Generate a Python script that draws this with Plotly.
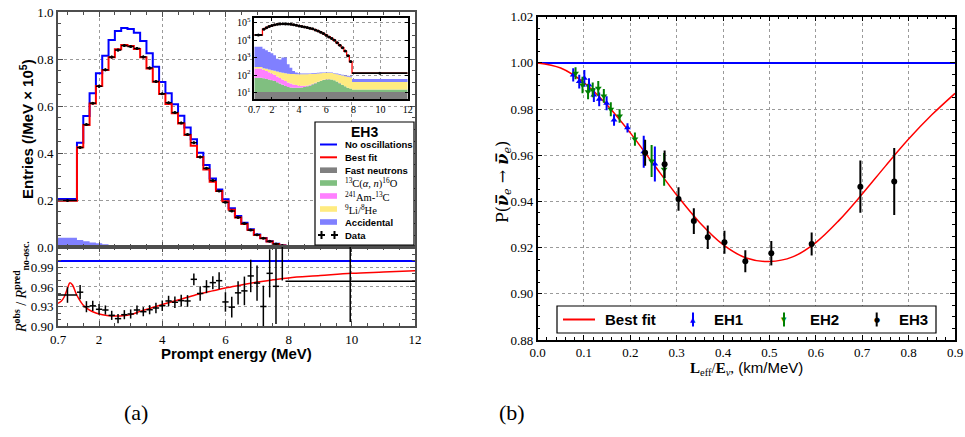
import plotly.graph_objects as go

W, H = 965, 437

# ---------------- Panel (a): EH3 prompt-energy spectrum ----------------
bin_edges = [0.7, 1.3, 1.5, 1.7, 1.9, 2.1, 2.3, 2.5, 2.7, 2.9, 3.1, 3.3, 3.5, 3.7, 3.9,
             4.1, 4.3, 4.5, 4.7, 4.9, 5.1, 5.3, 5.5, 5.7, 5.9, 6.1, 6.3, 6.5, 6.7, 6.9,
             7.1, 7.3, 7.5, 7.7, 7.9, 12.0]
# entries (/MeV x 1e5)
no_osc = [0.204, 0.444, 0.557, 0.654, 0.739, 0.814, 0.881, 0.919, 0.932, 0.928, 0.912,
          0.877, 0.824, 0.767, 0.702, 0.654, 0.607, 0.559, 0.509, 0.458, 0.401, 0.349,
          0.292, 0.245, 0.203, 0.165, 0.132, 0.103, 0.075, 0.053, 0.038, 0.024, 0.0135,
          0.0063, 0.0014]
best_fit = [0.197, 0.424, 0.519, 0.611, 0.685, 0.753, 0.807, 0.841, 0.860, 0.855, 0.843,
            0.807, 0.760, 0.703, 0.651, 0.609, 0.569, 0.525, 0.477, 0.431, 0.383, 0.330,
            0.278, 0.238, 0.195, 0.158, 0.126, 0.098, 0.072, 0.051, 0.037, 0.023, 0.013,
            0.006, 0.0013]
data_entries = [0.198, 0.423, 0.521, 0.612, 0.684, 0.754, 0.808, 0.838, 0.857, 0.853, 0.845,
                0.809, 0.762, 0.704, 0.652, 0.614, 0.572, 0.528, 0.479, 0.444, 0.383, 0.335,
                0.283, 0.238, 0.190, 0.153, 0.126, 0.100, 0.072, 0.052, 0.037, 0.024, 0.013,
                0.006, 0.0013]
data_err = [0.003, 0.005, 0.005, 0.005, 0.006, 0.006, 0.006, 0.006, 0.006, 0.006, 0.006,
            0.006, 0.006, 0.006, 0.005, 0.005, 0.005, 0.005, 0.005, 0.005, 0.005, 0.004,
            0.004, 0.004, 0.004, 0.003, 0.003, 0.003, 0.003, 0.002, 0.002, 0.002, 0.001,
            0.001, 0.0002]
# ratio R_obs / R_pred(no osc.)
ratio_obs = [0.9477, 0.952, 0.9297, 0.931, 0.9257, 0.9246, 0.9164, 0.9113, 0.9174, 0.9185,
             0.9246, 0.922, 0.925, 0.9277, 0.9312, 0.9385, 0.9365, 0.939, 0.9385, 0.9718,
             0.950, 0.9605, 0.9667, 0.9697, 0.937, 0.929, 0.951, 0.954, 0.977, 0.966,
             0.930, 0.981, 0.961, 1.03, 0.969]
ratio_err = [0.012, 0.011, 0.0085, 0.008, 0.008, 0.007, 0.007, 0.007, 0.007, 0.007, 0.007,
             0.007, 0.007, 0.008, 0.008, 0.008, 0.009, 0.009, 0.009, 0.009, 0.011, 0.010,
             0.010, 0.013, 0.015, 0.016, 0.018, 0.022, 0.025, 0.027, 0.032, 0.037, 0.058,
             0.06, 0.063]
ratio_curve_e = [0.7, 0.8, 0.9, 1.0, 1.08, 1.16, 1.27, 1.37, 1.5, 1.65, 1.8, 2.0, 2.25, 2.5,
                 2.75, 3.0, 3.3, 3.6, 4.0, 4.5, 5.0, 5.5, 6.0, 6.5, 7.0, 7.5, 8.0, 9.0, 10.0,
                 11.0, 12.0]
ratio_curve_v = [0.935, 0.938, 0.945, 0.958, 0.9665, 0.963, 0.950, 0.941, 0.932, 0.926,
                 0.922, 0.9185, 0.9163, 0.9154, 0.9157, 0.9175, 0.9225, 0.927, 0.933, 0.940,
                 0.947, 0.953, 0.9585, 0.963, 0.9675, 0.971, 0.974, 0.9775, 0.981, 0.983,
                 0.985]
ratio_ref = 1.0
# backgrounds (events / MeV)
bkg_fast_n = [11, 11, 11, 11, 11, 11, 11, 11, 11, 11, 11, 11, 11, 11, 11, 11, 11, 11, 11,
              11, 11, 11, 11, 11, 11, 11, 11, 11, 11, 11, 11, 11, 11, 11, 11]
bkg_c13 = [60, 55, 50, 45, 40, 35, 28, 22, 17, 13, 10, 9, 8, 8, 8, 9, 10, 12, 15, 19, 24,
           30, 36, 42, 46, 48, 46, 40, 32, 24, 17, 12, 8, 6, 4]
bkg_amc = [170, 130, 110, 90, 72, 58, 46, 36, 28, 22, 17, 13, 10, 8, 6, 5, 4, 3, 2.5, 2,
           1.6, 1.3, 1, 0.8, 0.6, 0.5, 0.4, 0.3, 0.25, 0.2, 0.15, 0.1, 0.1, 0.1, 0.05]
bkg_lihe = [50, 55, 60, 65, 70, 72, 75, 78, 80, 82, 84, 85, 86, 87, 88, 88, 88, 88, 87, 86,
            85, 84, 82, 80, 78, 76, 74, 72, 70, 68, 66, 64, 62, 60, 25]
bkg_acc = [3900, 3000, 2400, 1900, 1600, 1200, 700, 650, 900, 900, 300, 150, 60, 30, 15,
           10, 10, 10, 10, 10, 10, 10, 10, 10, 10, 10, 10, 10, 10, 10, 10, 10, 10, 10, 20]
bkg_colors = ["rgb(128,128,128)", "rgb(128,191,128)", "rgb(255,128,255)",
              "rgb(255,235,128)", "rgb(128,128,255)"]

# ---------------- Panel (b): survival probability ----------------
surv_x = [0, 0.05, 0.1, 0.15, 0.2, 0.25, 0.3, 0.35, 0.4, 0.45, 0.5, 0.55, 0.6, 0.65, 0.7,
          0.75, 0.8, 0.85, 0.9]
surv_p = [1.000, 0.9978, 0.9915, 0.9818, 0.9697, 0.9562, 0.9428, 0.9308, 0.9213, 0.9155,
          0.9140, 0.9160, 0.9222, 0.9318, 0.9432, 0.9553, 0.9670, 0.9775, 0.9868]
eh1_x = [0.077, 0.090, 0.101, 0.111, 0.1215, 0.133, 0.149, 0.165, 0.194, 0.229, 0.253]
eh1_y = [0.9948, 0.9919, 0.9933, 0.9904, 0.9861, 0.9842, 0.9825, 0.9753, 0.9719, 0.9615, 0.9562]
eh1_e = [0.0029, 0.0030, 0.0036, 0.0029, 0.0030, 0.0030, 0.0030, 0.0025, 0.0020, 0.0069, 0.0076]
eh2_x = [0.082, 0.097, 0.109, 0.119, 0.131, 0.143, 0.158, 0.177, 0.210, 0.246, 0.273]
eh2_y = [0.9955, 0.9904, 0.9875, 0.9883, 0.9890, 0.9857, 0.9799, 0.9770, 0.9670, 0.9575, 0.9539]
eh2_e = [0.0026, 0.0036, 0.0032, 0.0032, 0.0032, 0.0030, 0.0030, 0.0029, 0.0029, 0.0069, 0.0071]
eh3_x = [0.232, 0.274, 0.304, 0.337, 0.367, 0.403, 0.448, 0.504, 0.591, 0.696, 0.769]
eh3_y = [0.9611, 0.9561, 0.9411, 0.9315, 0.9245, 0.9223, 0.9141, 0.9176, 0.9216, 0.9464, 0.9486]
eh3_e = [0.0056, 0.0060, 0.0051, 0.0056, 0.0051, 0.0050, 0.0048, 0.0053, 0.0050, 0.0113, 0.0145]
p_ref = 1.0

# ---------------- helpers (window pixel -> paper fraction) ----------------
def pxx(x):
    return x / W

def pxy(y):
    return 1 - y / H

centers = [(a + b) / 2 for a, b in zip(bin_edges[:-1], bin_edges[1:])]
halfw = [(b - a) / 2 for a, b in zip(bin_edges[:-1], bin_edges[1:])]

def step_y(vals):
    return list(vals) + [vals[-1]]

fig = go.Figure()

# --- main spectrum (x, y)
acc_main = [v / 1e5 for v in bkg_acc]
fig.add_trace(go.Scatter(x=bin_edges, y=step_y(acc_main), mode="lines", line_shape="hv",
                         line=dict(width=0), fill="tozeroy", fillcolor="rgb(128,128,255)",
                         xaxis="x", yaxis="y"))
fig.add_trace(go.Scatter(x=bin_edges, y=step_y(no_osc), mode="lines", line_shape="hv",
                         line=dict(color="#0000ff", width=2), xaxis="x", yaxis="y"))
fig.add_trace(go.Scatter(x=bin_edges, y=step_y(best_fit), mode="lines", line_shape="hv",
                         line=dict(color="#ff0000", width=2), xaxis="x", yaxis="y"))
fig.add_trace(go.Scatter(x=centers, y=data_entries, mode="markers",
                         marker=dict(color="black", size=3),
                         error_x=dict(type="data", array=halfw, color="black", thickness=1.5, width=0),
                         error_y=dict(type="data", array=data_err, color="black", thickness=1.5, width=0),
                         xaxis="x", yaxis="y"))

# --- ratio panel (x2, y2)
fig.add_trace(go.Scatter(x=[bin_edges[0], bin_edges[-1]], y=[ratio_ref, ratio_ref], mode="lines",
                         line=dict(color="#0000ff", width=2), xaxis="x2", yaxis="y2"))
fig.add_trace(go.Scatter(x=ratio_curve_e, y=ratio_curve_v, mode="lines", line_shape="spline",
                         line=dict(color="#ff0000", width=1.5), xaxis="x2", yaxis="y2"))
fig.add_trace(go.Scatter(x=centers, y=ratio_obs, mode="markers",
                         marker=dict(color="black", size=1),
                         error_x=dict(type="data", array=halfw, color="black", thickness=1.5, width=0),
                         error_y=dict(type="data", array=ratio_err, color="black", thickness=1.5, width=0),
                         xaxis="x2", yaxis="y2"))

# --- inset (x3, y3), log scale
fig.add_trace(go.Scatter(x=bin_edges, y=[1] * len(bin_edges), mode="lines", line_shape="hv",
                         line=dict(width=0), xaxis="x3", yaxis="y3"))
running = [0] * len(centers)
for layer, col in zip([bkg_fast_n, bkg_c13, bkg_amc, bkg_lihe, bkg_acc], bkg_colors):
    running = [r + v for r, v in zip(running, layer)]
    fig.add_trace(go.Scatter(x=bin_edges, y=step_y(running), mode="lines", line_shape="hv",
                             line=dict(width=0), fill="tonexty", fillcolor=col,
                             xaxis="x3", yaxis="y3"))
fig.add_trace(go.Scatter(x=bin_edges, y=step_y([v * 1e5 for v in best_fit]), mode="lines",
                         line_shape="hv", line=dict(color="#ff0000", width=1.3),
                         xaxis="x3", yaxis="y3"))
fig.add_trace(go.Scatter(x=centers, y=[v * 1e5 for v in data_entries], mode="markers",
                         marker=dict(color="black", size=3),
                         error_x=dict(type="data", array=halfw, color="black", thickness=1.8, width=0),
                         xaxis="x3", yaxis="y3"))

# --- panel (b) (x4, y4)
fig.add_trace(go.Scatter(x=[surv_x[0], surv_x[-1]], y=[p_ref, p_ref], mode="lines",
                         line=dict(color="#0000ff", width=2), xaxis="x4", yaxis="y4"))
fig.add_trace(go.Scatter(x=surv_x, y=surv_p, mode="lines", line_shape="spline",
                         line=dict(color="#ff0000", width=1.5), xaxis="x4", yaxis="y4"))
for xs, ys, es, col, sym in [(eh1_x, eh1_y, eh1_e, "#0000ff", "triangle-up"),
                             (eh2_x, eh2_y, eh2_e, "#008000", "triangle-down"),
                             (eh3_x, eh3_y, eh3_e, "black", "circle")]:
    fig.add_trace(go.Scatter(x=xs, y=ys, mode="markers",
                             marker=dict(color=col, size=6, symbol=sym),
                             error_y=dict(type="data", array=es, color=col, thickness=2, width=0),
                             xaxis="x4", yaxis="y4"))

# ---------------- axes ----------------
FG = "#4d4d4d"
tf13 = dict(family="Liberation Serif", size=13, color="black")
tf10 = dict(family="Liberation Serif", size=10, color="black")
grid = dict(showgrid=True, gridcolor="#9a9a9a", griddash="dot", gridwidth=1, zeroline=False,
            automargin=False, ticklabeloverflow="allow")

XL = [pxx(58), pxx(415)]
Y_SPLIT = pxy(247)
common_l = dict(showline=True, mirror="ticks", linecolor=FG, linewidth=2, ticks="inside",
                ticklen=5, tickwidth=1, tickcolor=FG, **grid)

fig.update_layout(
    xaxis=dict(domain=XL, range=[0.7, 12], anchor="y", tickvals=[0.7, 2, 4, 6, 8, 10, 12],
               showticklabels=False,
               minor=dict(ticks="inside", ticklen=3, tickmode="linear", tick0=0, dtick=0.5,
                          tickcolor=FG), **common_l),
    yaxis=dict(domain=[Y_SPLIT, pxy(12)], range=[0, 1.0], anchor="x", tickvals=[0, 0.2, 0.4, 0.6, 0.8, 1.0],
               ticktext=["0.0", "0.2", "0.4", "0.6", "0.8", "1.0"], tickfont=tf13,
               minor=dict(ticks="inside", ticklen=3, tickmode="linear", tick0=0, dtick=0.05,
                          tickcolor=FG), **common_l),
    xaxis2=dict(domain=XL, range=[0.7, 12], anchor="y2", tickvals=[0.7, 2, 4, 6, 8, 10, 12],
                ticktext=["0.7", "2", "4", "6", "8", "10", "12"], tickfont=tf13,
                minor=dict(ticks="inside", ticklen=3, tickmode="linear", tick0=0, dtick=0.5,
                           tickcolor=FG), **common_l),
    yaxis2=dict(domain=[pxy(326), Y_SPLIT], range=[0.9, 1.0215], anchor="x2",
                tickvals=[0.90, 0.93, 0.96, 0.99], ticktext=["0.90", "0.93", "0.96", "0.99"],
                tickfont=tf13,
                minor=dict(ticks="inside", ticklen=3, tickmode="linear", tick0=0.9, dtick=0.01,
                           tickcolor=FG), **common_l),
    xaxis3=dict(domain=[pxx(254.3), pxx(407.7)], range=[0.7, 12], anchor="y3",
                tickvals=[0.7, 2, 4, 6, 8, 10, 12], ticktext=["0.7", "2", "4", "6", "8", "10", "12"],
                tickfont=tf10, showline=True, mirror="ticks", linecolor="black", linewidth=1.5,
                ticks="inside", ticklen=3, tickcolor="black", **grid),
    yaxis3=dict(domain=[pxy(99.3), pxy(18.3)], type="log", range=[0.62, 5.25], anchor="x3",
                tickvals=[10, 100, 1e3, 1e4, 1e5],
                ticktext=["10<sup>1</sup>", "10<sup>2</sup>", "10<sup>3</sup>", "10<sup>4</sup>",
                          "10<sup>5</sup>"],
                tickfont=tf10, showline=True, mirror="ticks", linecolor="black", linewidth=1.5,
                ticks="inside", ticklen=3, tickcolor="black", **grid),
    xaxis4=dict(domain=[pxx(537.5), pxx(955)], range=[0, 0.9], anchor="y4",
                tickvals=[0, 0.1, 0.2, 0.3, 0.4, 0.5, 0.6, 0.7, 0.8, 0.9],
                ticktext=["0.0", "0.1", "0.2", "0.3", "0.4", "0.5", "0.6", "0.7", "0.8", "0.9"],
                tickfont=tf13, showline=True, mirror="ticks", linecolor="black", linewidth=1.5,
                ticks="inside", ticklen=5, tickcolor="black",
                minor=dict(ticks="inside", ticklen=3, tickmode="linear", tick0=0, dtick=0.02,
                           tickcolor="black"), **grid),
    yaxis4=dict(domain=[pxy(340), pxy(16.7)], range=[0.88, 1.02], anchor="x4",
                tickvals=[0.88, 0.90, 0.92, 0.94, 0.96, 0.98, 1.00, 1.02],
                ticktext=["0.88", "0.90", "0.92", "0.94", "0.96", "0.98", "1.00", "1.02"],
                tickfont=tf13, showline=True, mirror="ticks", linecolor="black", linewidth=1.5,
                ticks="inside", ticklen=5, tickcolor="black",
                minor=dict(ticks="inside", ticklen=3, tickmode="linear", tick0=0.88, dtick=0.005,
                           tickcolor="black"), **grid),
)

# ---------------- legends (drawn as shapes + text) ----------------
shapes = []
ann = []
SANS = "Liberation Sans"
SERIF = "Liberation Serif"

# left legend
shapes.append(dict(type="rect", xref="paper", yref="paper", x0=pxx(315), x1=pxx(414),
                   y0=pxy(245), y1=pxy(122), line=dict(color="black", width=1.2),
                   fillcolor="white", layer="above"))
ann.append(dict(x=pxx(364), y=pxy(132), text="<b>EH3</b>", font=dict(family=SANS, size=14, color="black")))
rows = [144.5, 157.3, 170.2, 183.0, 196.0, 209.0, 222.0, 235.0]
labels = ["<b>No oscillations</b>", "<b>Best fit</b>", "<b>Fast neutrons</b>",
          "<sup>13</sup>C(<i>α</i>, <i>n</i>)<sup>16</sup>O", "<sup>241</sup>Am-<sup>13</sup>C",
          "<sup>9</sup>Li/<sup>8</sup>He", "<b>Accidental</b>", "<b>Data</b>"]
fonts = [SANS, SANS, SANS, SERIF, SERIF, SERIF, SANS, SANS]
sizes = [9.5, 9.5, 9.5, 10.5, 10.5, 10.5, 9.5, 9.5]
for r, t, f, s in zip(rows, labels, fonts, sizes):
    ann.append(dict(x=pxx(343), y=pxy(r), xanchor="left", text=t,
                    font=dict(family=f, size=s, color="black")))
for r, col in zip(rows[:2], ["#0000ff", "#ff0000"]):
    shapes.append(dict(type="line", xref="paper", yref="paper", x0=pxx(320), x1=pxx(337),
                       y0=pxy(r), y1=pxy(r), line=dict(color=col, width=2), layer="above"))
for r, col in zip(rows[2:7], bkg_colors):
    shapes.append(dict(type="rect", xref="paper", yref="paper", x0=pxx(320), x1=pxx(337),
                       y0=pxy(r + 2.8), y1=pxy(r - 2.8), line=dict(width=0), fillcolor=col,
                       layer="above"))
for cx in [321.5, 334.5]:
    shapes.append(dict(type="line", xref="paper", yref="paper", x0=pxx(cx - 3.5), x1=pxx(cx + 3.5),
                       y0=pxy(rows[7]), y1=pxy(rows[7]), line=dict(color="black", width=2), layer="above"))
    shapes.append(dict(type="line", xref="paper", yref="paper", x0=pxx(cx), x1=pxx(cx),
                       y0=pxy(rows[7] - 4), y1=pxy(rows[7] + 4), line=dict(color="black", width=2), layer="above"))

# right legend
shapes.append(dict(type="rect", xref="paper", yref="paper", x0=pxx(557), x1=pxx(936),
                   y0=pxy(333), y1=pxy(306), line=dict(color="black", width=1.2),
                   fillcolor="white", layer="above"))
LY = 319.5
shapes.append(dict(type="line", xref="paper", yref="paper", x0=pxx(563), x1=pxx(595),
                   y0=pxy(LY), y1=pxy(LY), line=dict(color="#ff0000", width=2), layer="above"))
for cx, col in [(693, "#0000ff"), (784, "#008000"), (876.7, "black")]:
    shapes.append(dict(type="line", xref="paper", yref="paper", x0=pxx(cx), x1=pxx(cx),
                       y0=pxy(LY + 7), y1=pxy(LY - 7), line=dict(color=col, width=2), layer="above"))
for cx, col, sym in [(693, "#0000ff", "▲"), (784, "#008000", "▼"), (876.7, "black", "●")]:
    ann.append(dict(x=pxx(cx), y=pxy(LY), text=sym, font=dict(family="DejaVu Sans", size=7, color=col)))
for x0, t in [(603, "Best fit"), (712, "EH1"), (808, "EH2"), (896.7, "EH3")]:
    ann.append(dict(x=pxx(x0), y=pxy(LY), xanchor="left", text="<b>%s</b>" % t,
                    font=dict(family=SANS, size=15, color="black")))

# axis titles
ann.append(dict(x=pxx(26), y=pxy(129), textangle=-90,
                text="<b>Entries (/MeV × 10<sup>5</sup>)</b>", font=dict(family=SANS, size=15, color="black")))
ann.append(dict(x=pxx(21), y=pxy(287), textangle=-90,
                text="<i>R</i><sup><b>obs</b></sup> / <i>R</i><sup><b>pred</b></sup><sub><b>no-osc.</b></sub>",
                font=dict(family=SERIF, size=14, color="black")))
ann.append(dict(x=pxx(236), y=pxy(353), text="<b>Prompt energy (MeV)</b>",
                font=dict(family=SANS, size=15, color="black")))
ann.append(dict(x=pxx(746), y=pxy(368),
                text="<span style='font-family:Liberation Serif'><b>L</b><sub>eff</sub>/<b>E</b><sub><i>ν</i></sub>,</span> (km/MeV)",
                font=dict(family=SANS, size=15, color="black")))
ann.append(dict(x=pxx(503), y=pxy(182), textangle=-90,
                text="P(<b><i>ν̅</i></b><sub><i>e</i></sub> → <b><i>ν̅</i></b><sub><i>e</i></sub>)",
                font=dict(family="DejaVu Serif", size=16, color="black")))
ann.append(dict(x=pxx(136), y=pxy(412), text="(a)", font=dict(family=SERIF, size=22, color="black")))
ann.append(dict(x=pxx(512), y=pxy(412), text="(b)", font=dict(family=SERIF, size=22, color="black")))

for a in ann:
    a.setdefault("xref", "paper")
    a.setdefault("yref", "paper")
    a.setdefault("showarrow", False)
    a.setdefault("xanchor", "center")
    a.setdefault("yanchor", "middle")

fig.update_layout(width=W, height=H, margin=dict(l=0, r=0, t=0, b=0, autoexpand=False),
                  paper_bgcolor="white", plot_bgcolor="white", showlegend=False,
                  shapes=shapes, annotations=ann)

# remove the browser's default 8 px body margin so the figure sits at the window origin
fig.write_html("out.html", config={"displayModeBar": False},
               post_script="document.body.style.margin='0px';"
                           "document.body.style.overflow='hidden';"
                           "document.documentElement.style.overflow='hidden';")
